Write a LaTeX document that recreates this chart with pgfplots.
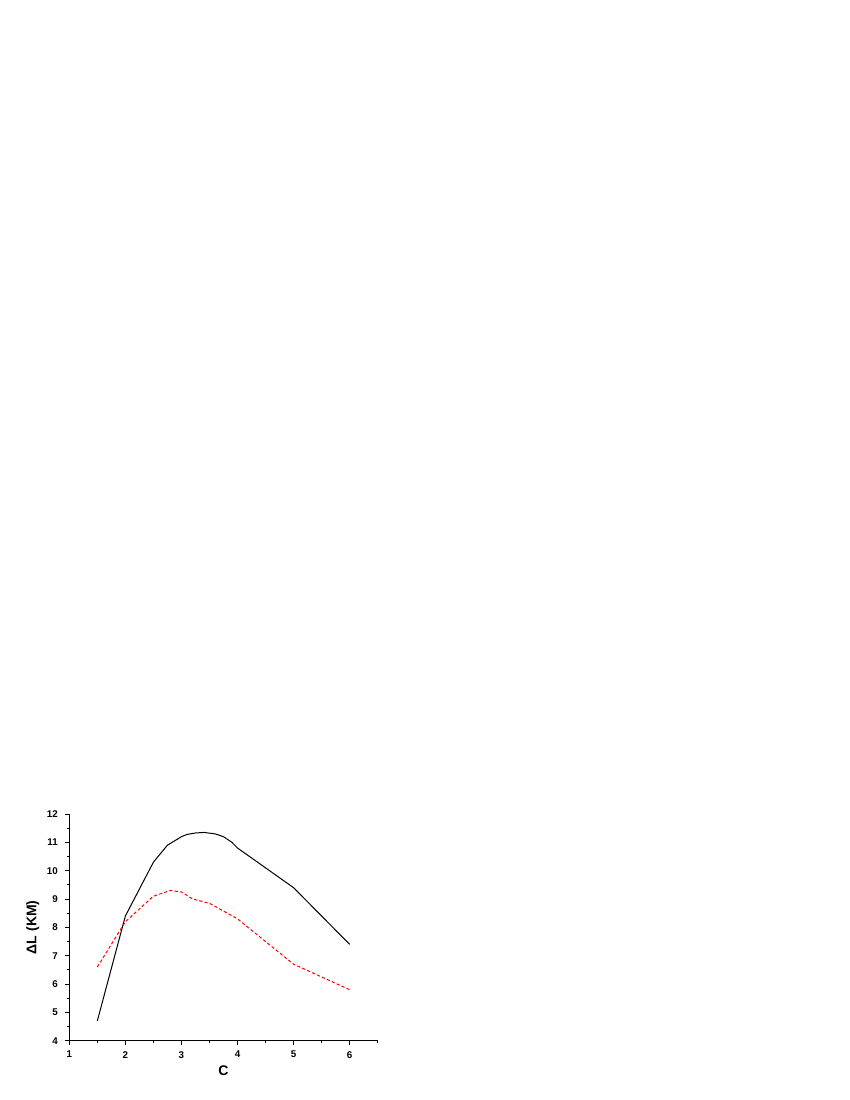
\documentclass[border=0pt]{standalone}
\usepackage{fontspec}
\setmainfont{Liberation Sans}
\usepackage{pgfplots}
\pgfplotsset{compat=1.18}

\begin{document}
\begin{tikzpicture}
\useasboundingbox[fill=white] (0,0) rectangle (425pt,550pt);
\begin{axis}[
  at={(34.65pt,29.65pt)}, anchor=south west,
  scale only axis,
  width=154.2pt, height=113.35pt,
  xmin=1, xmax=6.5, ymin=4, ymax=12,
  axis lines*=left,
  axis line style={line width=0.6pt},
  xtick={1,2,3,4,5,6}, ytick={4,5,...,12},
  minor x tick num=1, minor y tick num=1,
  extra x ticks={6.5}, extra x tick labels={},
  extra x tick style={major tick length=1.2pt},
  tick align=outside,
  major tick length=2.2pt, minor tick length=1.2pt,
  tick style={black, line width=0.5pt},
  /pgf/number format/assume math mode=true,
  ticklabel style={font=\fontsize{4.9}{5}\selectfont\bfseries},
  xticklabel style={yshift=0.5pt},
  xlabel={C}, ylabel={ΔL (KM)},
  label style={font=\fontsize{7}{8}\selectfont\bfseries},
  xlabel style={yshift=6.5pt},
  ylabel style={yshift=-3pt},
  clip=false,
]
\addplot[black, line width=0.5pt] coordinates {
  (1.5,4.7) (2,8.4) (2.5,10.3) (2.75,10.9) (3,11.2) (3.1,11.28) (3.25,11.33)
  (3.4,11.35) (3.6,11.3) (3.75,11.2) (3.9,11.0) (4,10.8) (5,9.4) (6,7.4)
};
\addplot[red, line width=0.5pt, dash pattern=on 1.6pt off 1.1pt] coordinates {
  (1.5,6.6) (2,8.2) (2.5,9.1) (2.8,9.3) (3,9.25) (3.2,9.0) (3.5,8.85)
  (4,8.3) (5,6.7) (6,5.8)
};
\end{axis}
\end{tikzpicture}
\end{document}
